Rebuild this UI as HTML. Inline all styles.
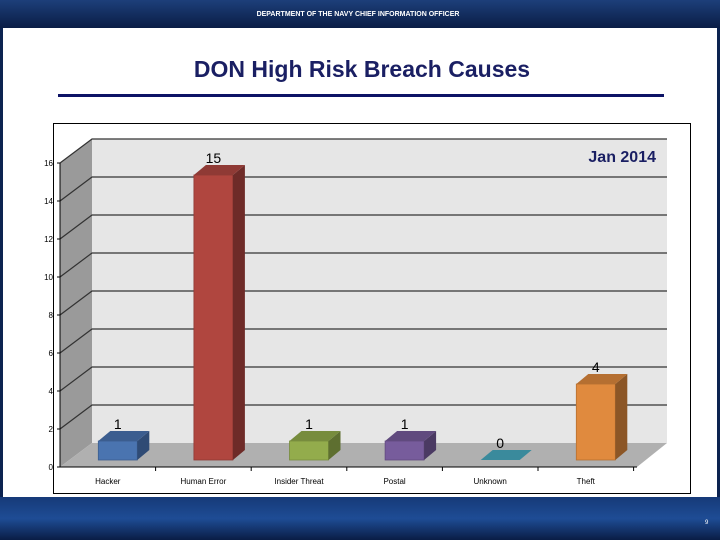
<!DOCTYPE html>
<html><head><meta charset="utf-8"><style>
html,body{margin:0;width:720px;height:540px;overflow:hidden;background:#0c2350;font-family:"Liberation Sans",sans-serif}
svg{display:block}
</style></head><body>
<svg width="720" height="540" viewBox="0 0 720 540">
<defs>
<linearGradient id="hdr" x1="0" y1="0" x2="0" y2="1"><stop offset="0" stop-color="#1d3f7a"/><stop offset="1" stop-color="#0a1d45"/></linearGradient>
<linearGradient id="ftr" x1="0" y1="0" x2="0" y2="1"><stop offset="0" stop-color="#163a78"/><stop offset="0.5" stop-color="#1e4c95"/><stop offset="1" stop-color="#0a1d45"/></linearGradient>
</defs>
<rect x="0" y="0" width="720" height="28" fill="url(#hdr)"/>
<text x="358" y="16" text-anchor="middle" font-size="7" fill="#fff" font-weight="bold">DEPARTMENT OF THE NAVY CHIEF INFORMATION OFFICER</text>
<rect x="3" y="28" width="714" height="469" fill="#fff"/>
<rect x="0" y="497" width="720" height="43" fill="url(#ftr)"/>
<text x="705" y="524" font-size="6" fill="#fff">9</text>
<text x="362" y="77" text-anchor="middle" font-size="23" font-weight="bold" fill="#1a1f63">DON High Risk Breach Causes</text>
<rect x="58" y="94" width="606" height="3" fill="#0d1366"/>
<rect x="53.5" y="123.5" width="637" height="370" fill="#fff" stroke="#000" stroke-width="1"/>
<g id="chart"></g>
<text x="656" y="162" text-anchor="end" font-size="16" font-weight="bold" fill="#1a1f63">Jan 2014</text>
</svg>
<script>
const categories=["Hacker","Human Error","Insider Threat","Postal","Unknown","Theft"];
const values=[1,15,1,1,0,4];
const ticks=[0,2,4,6,8,10,12,14,16];
const NS="http://www.w3.org/2000/svg";
const g=document.getElementById('chart');
const X0=60,Y0=467,DX=32,DY=-24,U=19,CW=95.6,FX=637;
const y=v=>Y0-v*U;
const cx=i=>X0+CW*(i+0.5);
function mk(t,a,p){const e=document.createElementNS(NS,t);for(const k in a)e.setAttribute(k,a[k]);(p||g).appendChild(e);return e;}
let e;
e=mk('polygon',{points:`${X0+DX},${y(16)+DY} ${667},${y(16)+DY} 667,${Y0+DY} ${X0+DX},${Y0+DY}`,fill:'#e6e6e6'});

e=mk('polygon',{points:`${X0},${y(16)} ${X0+DX},${y(16)+DY} ${X0+DX},${Y0+DY} ${X0},${Y0}`,fill:'#9a9a9a'});

e=mk('polygon',{points:`${X0},${Y0} ${X0+DX},${Y0+DY} 667,${Y0+DY} ${FX},${Y0}`,fill:'#b0b0b0'});

ticks.forEach(t=>{
  if(t>0){const l=mk('polyline',{points:`${X0},${y(t)} ${X0+DX},${y(t)+DY} 667,${y(t)+DY}`,fill:'none',stroke:'#333','stroke-width':1.2});
  }
  const tx=mk('text',{x:X0-7,y:y(t)+3,'text-anchor':'end','font-size':8,fill:'#000'});tx.textContent=t;
  
  mk('line',{x1:X0-3,y1:y(t),x2:X0,y2:y(t),stroke:'#000'});
});
mk('line',{x1:X0,y1:y(16),x2:X0,y2:Y0,stroke:'#000'});
mk('line',{x1:X0,y1:Y0,x2:FX,y2:Y0,stroke:'#000'});
const cols=[["#4a74b0","#3b5d8f","#2f4b75"],["#b0463f","#8f3a35","#6e2b28"],["#93ac4c","#778c3d","#5e6f30"],["#775c9c","#604a7e","#4b3a63"],["#3a8a9c","#2e6f7e","#245763"],["#e08a3e","#b56f31","#8c5626"]];
categories.forEach((c,i)=>{
  mk('line',{x1:X0+CW*(i+1),y1:Y0,x2:X0+CW*(i+1),y2:Y0+4,stroke:'#000'});
  const lb=mk('text',{x:cx(i),y:484,'text-anchor':'middle','font-size':8,fill:'#000'});lb.textContent=c;
  
  const v=values[i],w=39,bx=cx(i)-w/2+10,bb=460,top=bb-v*U,dx=12,dy=-10;
  const bg=mk('g',{});
  
  
  if(v>0){
    mk('rect',{x:bx,y:top,width:w,height:bb-top,fill:cols[i][0],stroke:cols[i][1],'stroke-width':0.8},bg);
    mk('polygon',{points:`${bx+w},${top} ${bx+w+dx},${top+dy} ${bx+w+dx},${bb+dy} ${bx+w},${bb}`,fill:cols[i][2]},bg);
    mk('polygon',{points:`${bx},${top} ${bx+dx},${top+dy} ${bx+w+dx},${top+dy} ${bx+w},${top}`,fill:cols[i][1]},bg);
  } else {
    mk('polygon',{points:`${bx},${bb} ${bx+dx},${bb+dy} ${bx+w+dx},${bb+dy} ${bx+w},${bb}`,fill:cols[i][0]},bg);
  }
  const vl=mk('text',{x:bx+w/2,y:top+dy-2,'text-anchor':'middle','font-size':14,fill:'#000'});vl.textContent=v;
  
});
</script>
</body></html>
